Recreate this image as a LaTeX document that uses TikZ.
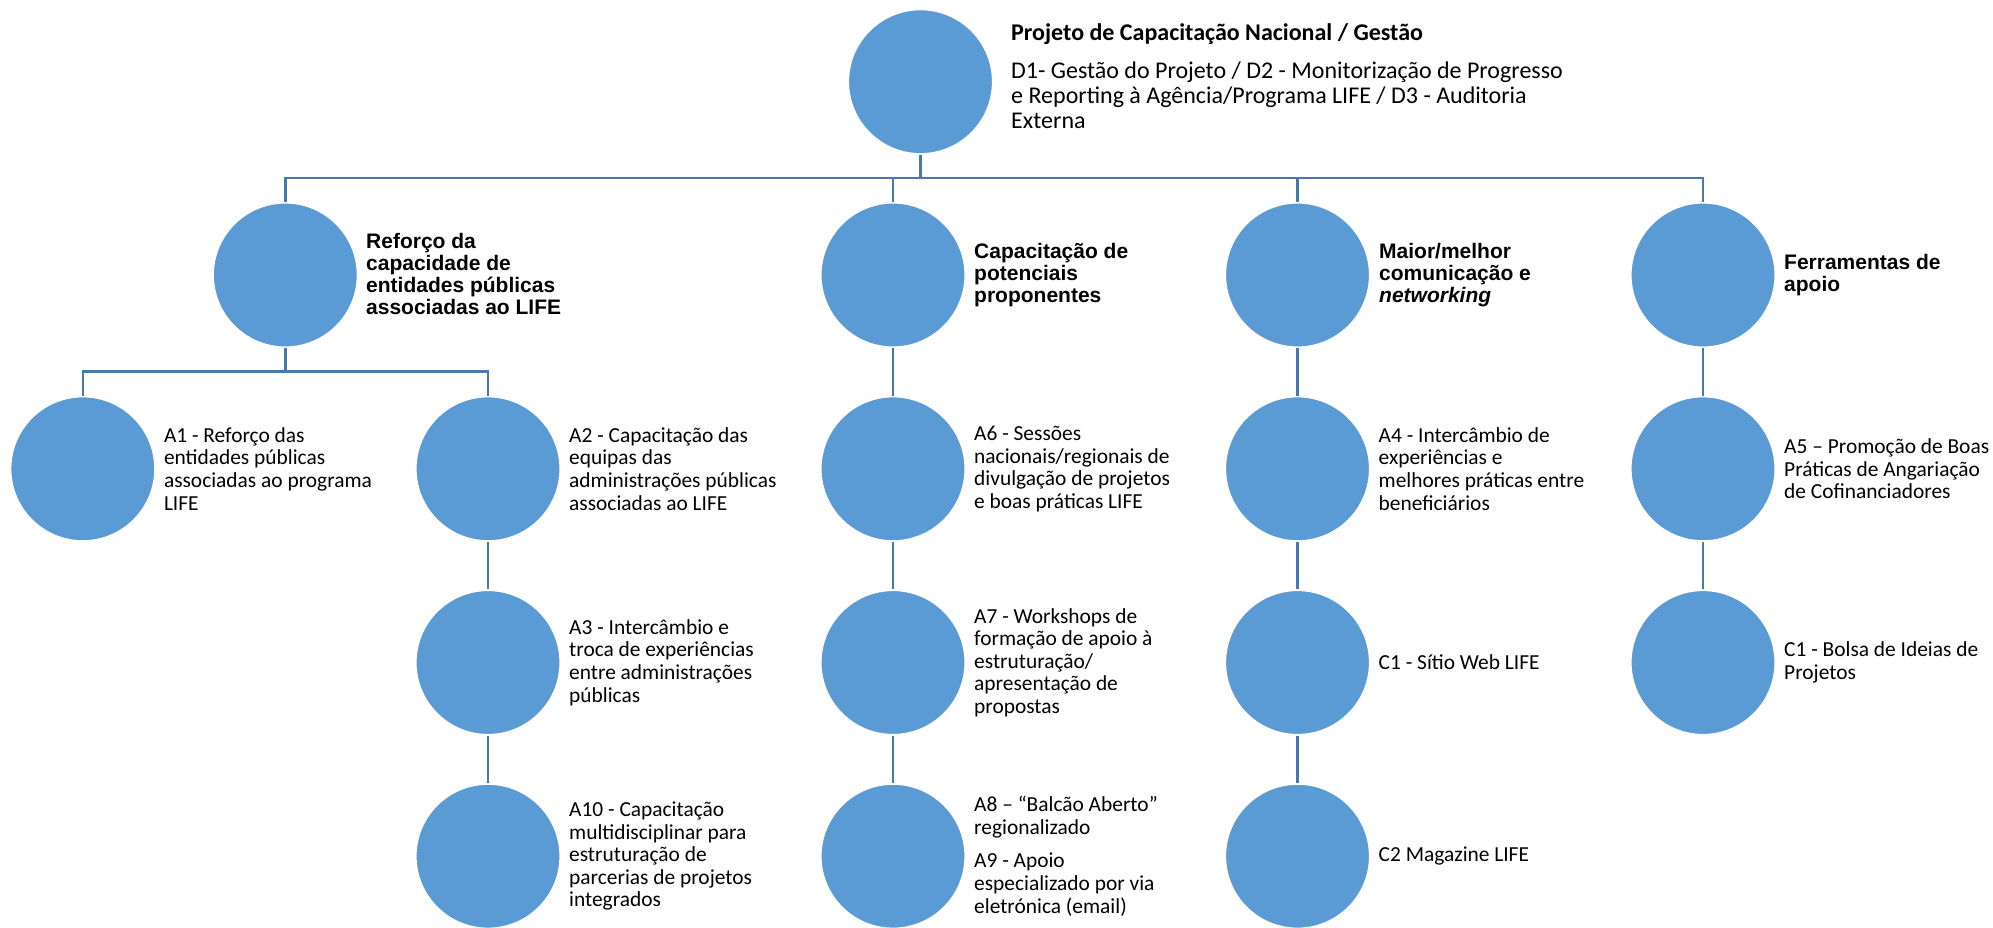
\documentclass[tikz,border=0pt]{standalone}
\usepackage{fontspec}
\setmainfont{Carlito}
\newfontfamily\hdfont{Liberation Sans}
\definecolor{cfill}{HTML}{5B9BD5}
\definecolor{cline}{HTML}{4878B0}
\begin{document}
\begin{tikzpicture}[x=1pt,y=-1pt,
  bub/.style={circle, fill=cfill, draw=white, line width=1.2pt, minimum size=144pt, inner sep=0pt, outer sep=1.2pt},
  conn/.style={draw=cline, line width=2.6pt},
  body/.style={anchor=west, align=left, inner sep=0pt, font=\fontsize{21.4}{22.6}\selectfont},
  head/.style={anchor=west, align=left, inner sep=0pt, font=\hdfont\bfseries\fontsize{21}{21.7}\selectfont},
  toptext/.style={anchor=west, align=left, inner sep=0pt, font=\fontsize{24}{25}\selectfont}
  ]
\useasboundingbox (0,0) rectangle (1993,927);
\fill[white] (0,0) rectangle (1993,927);

% circles
\node[bub] (top) at (920.5,81.7) {};
\node[bub] (r)   at (285.3,275) {};
\node[bub] (cp)  at (893,275) {};
\node[bub] (mm)  at (1297.5,275) {};
\node[bub] (fa)  at (1703,275) {};
\node[bub] (a1)  at (82.8,468.8) {};
\node[bub] (a2)  at (488,468.8) {};
\node[bub] (a6)  at (893,468.8) {};
\node[bub] (a4)  at (1297.5,468.8) {};
\node[bub] (a5)  at (1703,468.8) {};
\node[bub] (a3)  at (488,662.5) {};
\node[bub] (a7)  at (893,662.5) {};
\node[bub] (c1)  at (1297.5,662.5) {};
\node[bub] (c1b) at (1703,662.5) {};
\node[bub] (a10) at (488,856.2) {};
\node[bub] (a8)  at (893,856.2) {};
\node[bub] (c2)  at (1297.5,856.2) {};

% bar levels
\coordinate (b1) at (0,178);
\coordinate (b2) at (0,371.7);

% connectors
\foreach \c in {r,cp,mm,fa}
  \draw[conn] (top.south) -- (top.south |- b1) -| (\c.north);
\foreach \c in {a1,a2}
  \draw[conn] (r.south) -- (r.south |- b2) -| (\c.north);
\draw[conn] (a2.south) -- (a3.north);
\draw[conn] (a3.south) -- (a10.north);
\draw[conn] (cp.south) -- (a6.north);
\draw[conn] (a6.south) -- (a7.north);
\draw[conn] (a7.south) -- (a8.north);
\draw[conn] (mm.south) -- (a4.north);
\draw[conn] (a4.south) -- (c1.north);
\draw[conn] (c1.south) -- (c2.north);
\draw[conn] (fa.south) -- (a5.north);
\draw[conn] (a5.south) -- (c1b.north);

% texts
\node[toptext] (ttop) at (1011,76) {\textbf{Projeto de Capacitação Nacional / Gestão}\\[13pt]
D1- Gestão do Projeto / D2 - Monitorização de Progresso\\
e Reporting à Agência/Programa LIFE / D3 - Auditoria\\
Externa};

\node[head] (tr) at (366,274) {Reforço da\\capacidade de\\entidades públicas\\associadas ao LIFE};
\node[head] (tcp) at (974,275) {Capacitação de\\potenciais\\proponentes};
\node[head] (tmm) at (1379,275) {Maior/melhor\\comunicação e\\\textit{networking}};
\node[head] (tfa) at (1784,275) {Ferramentas de\\apoio};

\node[body] (ta1) at (163.8,468.8) {A1 - Reforço das\\entidades públicas\\associadas ao programa\\LIFE};
\node[body] (ta2) at (569,468.8) {A2 - Capacitação das\\equipas das\\administrações públicas\\associadas ao LIFE};
\node[body] (ta6) at (974,468.8) {A6 - Sessões\\nacionais/regionais de\\divulgação de projetos\\e boas práticas LIFE};
\node[body] (ta4) at (1378.5,468.8) {A4 - Intercâmbio de\\experiências e\\melhores práticas entre\\beneficiários};
\node[body] (ta5) at (1784,468.8) {A5 – Promoção de Boas\\Práticas de Angariação\\de Cofinanciadores};

\node[body] (ta3) at (569,662.5) {A3 - Intercâmbio e\\troca de experiências\\entre administrações\\públicas};
\node[body] (ta7) at (974,662.5) {A7 - Workshops de\\formação de apoio à\\estruturação/\\apresentação de\\propostas};
\node[body] (tc1) at (1378.5,662.5) {C1 - Sítio Web LIFE};
\node[body] (tc1b) at (1784,662.5) {C1 - Bolsa de Ideias de\\Projetos};

\node[body] (ta10) at (569,856.2) {A10 - Capacitação\\multidisciplinar para\\estruturação de\\parcerias de projetos\\integrados};
\node[body] (ta8) at (974,856.2) {A8 – “Balcão Aberto”\\regionalizado\\[10.8pt]A9 - Apoio\\especializado por via\\eletrónica (email)};
\node[body] (tc2) at (1378.5,856.2) {C2 Magazine LIFE};
\end{tikzpicture}
\end{document}
